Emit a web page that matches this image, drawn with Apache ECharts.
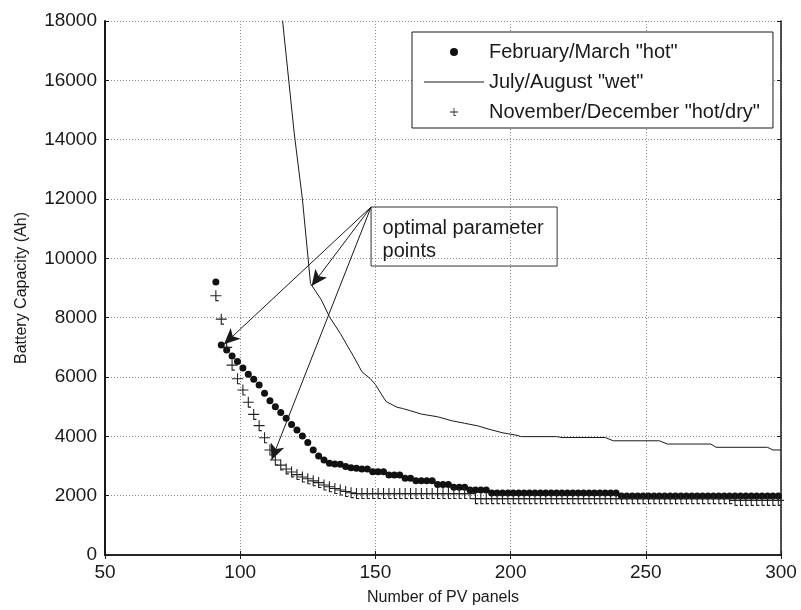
<!DOCTYPE html>
<html>
<head>
<meta charset="utf-8">
<script src="https://cdn.jsdelivr.net/npm/echarts@6/dist/echarts.min.js"></script>
<style>html,body{margin:0;padding:0;background:#fff}#chart{width:801px;height:610px}</style>
</head>
<body>
<div id="chart"></div>
<script>
// number of PV panels (x) for the two marker series
const panels = [91,93,95,97,99,101,103,105,107,109,111,113,115,117,119,121,123,125,127,129,
  131,133,135,137,139,141,143,145,147,149,151,153,155,157,159,161,163,165,167,169,
  171,173,175,177,179,181,183,185,187,189,191,193,195,197,199,201,203,205,207,209,
  211,213,215,217,219,221,223,225,227,229,231,233,235,237,239,241,243,245,247,249,
  251,253,255,257,259,261,263,265,267,269,271,273,275,277,279,281,283,285,287,289,
  291,293,295,297,299];
// February/March "hot"
const febMar = [9200,7080,6910,6710,6520,6300,6090,5920,5730,5450,5200,5000,4800,4610,4400,4210,4010,3790,3540,3340,
  3200,3090,3070,3060,2980,2940,2920,2900,2900,2810,2810,2810,2700,2700,2700,2590,2590,2500,2500,2500,
  2500,2380,2380,2380,2280,2280,2280,2190,2190,2190,2190,2090,2090,2090,2090,2090,2090,2090,2090,2090,
  2090,2090,2090,2090,2090,2090,2090,2090,2090,2090,2090,2090,2090,2090,2090,1990,1990,1990,1990,1990,
  1990,1990,1990,1990,1990,1990,1990,1990,1990,1990,1990,1990,1990,1990,1990,1990,1990,1990,1990,1990,
  1990,1990,1990,1990,1990];
// November/December "hot/dry"
const novDec = [8740,7950,7000,6400,5940,5560,5150,4740,4360,3950,3540,3200,3030,2900,2800,2710,2630,2570,2500,2440,
  2360,2300,2240,2190,2140,2100,2070,2070,2070,2070,2070,2070,2070,2070,2070,2070,2070,2070,2070,2070,
  2070,2070,2070,2070,2070,2070,2070,2070,1900,1900,1900,1900,1900,1900,1900,1900,1900,1900,1900,1900,
  1900,1900,1900,1900,1900,1900,1900,1900,1900,1900,1900,1900,1900,1900,1900,1900,1900,1900,1900,1900,
  1900,1900,1900,1900,1900,1900,1900,1900,1900,1900,1900,1900,1900,1900,1900,1900,1840,1840,1840,1840,
  1840,1840,1840,1840,1840];
// July/August "wet"
const wetX = [115,120,123,126,130,133,137,142,145,148,150,152,154,158,160,163,167,173,178,183,
  188,192,197,202,204,217,219,235,238,255,258,274,276,295,297,300];
const wetY = [18600,14200,12000,9150,8600,8030,7470,6680,6180,5950,5750,5450,5170,4980,4940,4860,4750,4660,4530,4440,
  4350,4240,4120,4040,3990,3990,3960,3960,3850,3850,3740,3740,3630,3630,3540,3540];

const seriesNames = ['February/March "hot"', 'July/August "wet"', 'November/December "hot/dry"'];
// annotation: box corners and arrow targets in data units
const noteBox = [[148.4, 11730], [217.2, 9740]];
const noteTargets = [[94, 7100], [126.4, 9070], [111.6, 3200]];

const FONT = 'Liberation Sans';
const INK = '#1a1a1a';
const plusPath = 'path://M4.5,0H5.5V4.5H10V5.5H5.5V9H7.5V10H4.5V5.5H0V4.5H4.5Z';

const chart = echarts.init(document.getElementById('chart'));

const gridLine = {show: true, lineStyle: {color: '#8c8c8c', width: 1, type: [1, 2]}};
const frame = {show: true, lineStyle: {color: INK, width: 1.5}};
const tickIn = {show: true, inside: true, length: 4, lineStyle: {color: INK, width: 1}};
const tickLabel = {fontFamily: FONT, fontSize: 19, color: INK, margin: 8,
  showMinLabel: true, showMaxLabel: true, formatter: v => String(v)};

chart.setOption({
  animation: false,
  backgroundColor: '#ffffff',
  grid: {left: 105, right: 20, top: 21, bottom: 55, containLabel: false, outerBoundsMode: 'none'},
  legend: {
    orient: 'vertical', left: 412, top: 32,
    padding: [9, 13, 5, 12], itemGap: 8,
    itemWidth: 60, itemHeight: 8,
    backgroundColor: '#fff', borderColor: INK, borderWidth: 1,
    textStyle: {fontFamily: FONT, fontSize: 20, lineHeight: 22, color: INK},
    data: [
      {name: seriesNames[0]},
      {name: seriesNames[1], icon: 'path://M0,0H60V1H0Z'},
      {name: seriesNames[2]}
    ]
  },
  xAxis: [{
    type: 'value', min: 50, max: 300, interval: 50,
    name: 'Number of PV panels', nameLocation: 'middle', nameGap: 35,
    nameTextStyle: {fontFamily: FONT, fontSize: 16, color: INK},
    axisLine: frame, axisTick: tickIn, splitLine: gridLine, axisLabel: tickLabel
  }, {
    type: 'value', position: 'top', min: 50, max: 300, interval: 50,
    axisLine: frame, axisTick: tickIn, splitLine: {show: false}, axisLabel: {show: false}
  }],
  yAxis: [{
    type: 'value', min: 0, max: 18000, interval: 2000,
    name: 'Battery Capacity (Ah)', nameLocation: 'middle', nameGap: 75, nameRotate: 90,
    nameTextStyle: {fontFamily: FONT, fontSize: 16, color: INK},
    axisLine: {show: true, lineStyle: {color: INK, width: 2}}, axisTick: tickIn, splitLine: gridLine,
    axisLabel: tickLabel
  }, {
    type: 'value', position: 'right', min: 0, max: 18000, interval: 2000,
    axisLine: frame, axisTick: tickIn, splitLine: {show: false}, axisLabel: {show: false}
  }],
  series: [{
    name: seriesNames[0],
    type: 'scatter',
    data: panels.map((p, i) => [p, febMar[i]]),
    symbol: 'circle', symbolSize: 7,
    itemStyle: {color: '#111', opacity: 1},
    z: 3
  }, {
    name: seriesNames[1],
    type: 'line',
    data: wetX.map((p, i) => [p, wetY[i]]),
    symbol: 'none', clip: true,
    lineStyle: {color: INK, width: 1},
    itemStyle: {color: INK, opacity: 1},
    z: 2,
    markLine: {
      silent: true,
      symbol: ['none', 'arrow'], symbolSize: [11, 16],
      label: {show: false},
      lineStyle: {color: INK, width: 1, type: 'solid', opacity: 1},
      data: noteTargets.map(t => [{coord: noteBox[0]}, {coord: t}]),
      z: 5
    },
    markArea: {
      silent: true,
      itemStyle: {color: 'rgba(255,255,255,0)', borderColor: '#333', borderWidth: 1},
      label: {
        show: true, position: 'insideTopLeft', distance: 0, offset: [12, 10],
        formatter: 'optimal parameter\npoints',
        fontFamily: FONT, fontSize: 20, lineHeight: 23, color: INK
      },
      data: [[{coord: noteBox[0]}, {coord: noteBox[1]}]]
    }
  }, {
    name: seriesNames[2],
    type: 'scatter',
    data: panels.map((p, i) => [p, novDec[i]]),
    symbol: plusPath, symbolSize: 11,
    itemStyle: {color: '#222', opacity: 1},
    z: 3
  }]
});

window.addEventListener('resize', () => chart.resize());
</script>
</body>
</html>
